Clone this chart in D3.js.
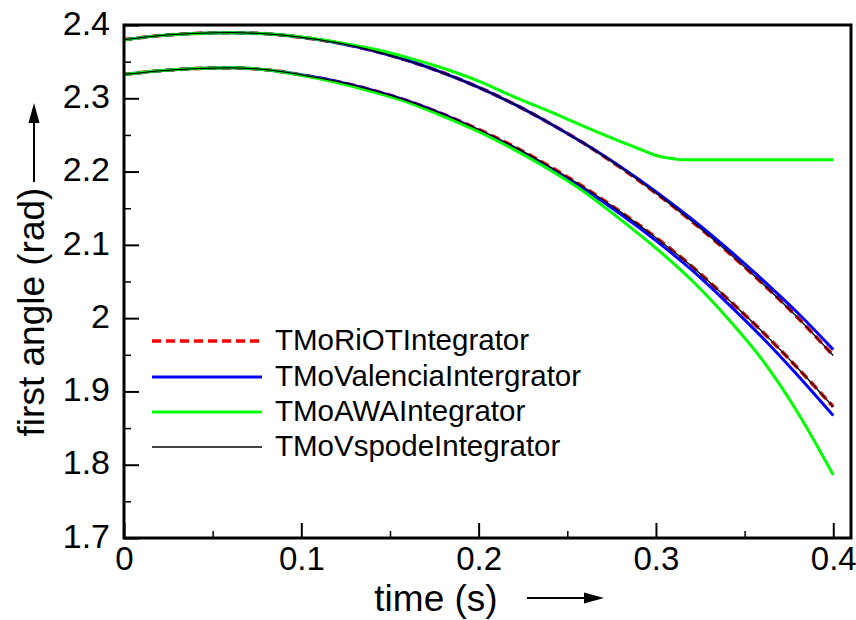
<!DOCTYPE html>
<html>
<head>
<meta charset="utf-8">
<script src="https://cdn.jsdelivr.net/npm/d3@7"></script>
<style>
  html, body { margin: 0; padding: 0; background: #fff; }
  svg { display: block; }
  text { font-family: "Liberation Sans", Arial, Helvetica, sans-serif; fill: #000; }
</style>
</head>
<body>
<svg id="chart" width="856" height="620"></svg>
<script>
// ---------- data ----------
const seriesNames = ["TMoRiOTIntegrator", "TMoValenciaIntergrator", "TMoAWAIntegrator", "TMoVspodeIntegrator"];

const timeS = [0, 0.02, 0.04, 0.06, 0.08, 0.10, 0.12, 0.14, 0.16, 0.18, 0.20,
               0.22, 0.24, 0.26, 0.28, 0.30, 0.32, 0.34, 0.36, 0.38, 0.40];

// upper branch
const riotUpper     = [2.380, 2.3855, 2.3885, 2.3895, 2.388, 2.3832, 2.3758, 2.3652, 2.3515, 2.3348, 2.315,
                       2.292, 2.266, 2.2375, 2.2056, 2.1706, 2.1326, 2.0915, 2.0475, 2.0005, 1.949];
const valenciaUpper = [2.380, 2.3855, 2.3885, 2.3895, 2.388, 2.3832, 2.3758, 2.3652, 2.3515, 2.3348, 2.315,
                       2.292, 2.266, 2.2375, 2.2066, 2.1726, 2.1356, 2.0955, 2.0525, 2.007, 1.957];
const vspodeUpper   = [2.380, 2.3855, 2.3885, 2.3895, 2.388, 2.3832, 2.3758, 2.3652, 2.3515, 2.3348, 2.315,
                       2.292, 2.266, 2.2375, 2.2056, 2.1706, 2.1326, 2.0915, 2.0475, 2.0005, 1.949];
const timeAwaUpper  = [0, 0.02, 0.04, 0.06, 0.08, 0.10, 0.12, 0.14, 0.16, 0.18, 0.20, 0.22, 0.24, 0.26,
                       0.28, 0.29, 0.30, 0.31, 0.315, 0.32, 0.34, 0.36, 0.38, 0.40];
const awaUpper      = [2.380, 2.3855, 2.3885, 2.3895, 2.388, 2.3835, 2.3765, 2.3675, 2.3555, 2.341, 2.3235, 2.302, 2.282, 2.261,
                       2.241, 2.2315, 2.222, 2.2175, 2.216, 2.216, 2.216, 2.216, 2.216, 2.216];

// lower branch
const riotLower     = [2.3325, 2.3375, 2.3405, 2.3415, 2.339, 2.332, 2.323, 2.3112, 2.2965, 2.2782, 2.2574,
                       2.234, 2.207, 2.1776, 2.145, 2.1098, 2.0711, 2.0272, 1.9815, 1.9317, 1.879];
const valenciaLower = [2.3325, 2.3375, 2.3405, 2.3415, 2.339, 2.332, 2.323, 2.3112, 2.2965, 2.2782, 2.2564,
                       2.2325, 2.205, 2.1751, 2.142, 2.1058, 2.0661, 2.0212, 1.9735, 1.9217, 1.867];
const vspodeLower   = [2.3325, 2.3375, 2.3405, 2.3415, 2.339, 2.332, 2.323, 2.3112, 2.2965, 2.2782, 2.2574,
                       2.234, 2.207, 2.1776, 2.145, 2.1098, 2.0711, 2.0272, 1.9815, 1.9317, 1.879];
const awaLower      = [2.3325, 2.3375, 2.3405, 2.3415, 2.339, 2.3315, 2.3215, 2.309, 2.2945, 2.2755, 2.2545,
                       2.230, 2.2025, 2.1715, 2.1345, 2.0955, 2.052, 2.001, 1.943, 1.871, 1.786];

const xTickValues = [0, 0.1, 0.2, 0.3, 0.4];
const xTickLabels = ["0", "0.1", "0.2", "0.3", "0.4"];
const xMinorTicks = [0.05, 0.15, 0.25, 0.35];
const yTickValues = [1.7, 1.8, 1.9, 2.0, 2.1, 2.2, 2.3, 2.4];
const yTickLabels = ["1.7", "1.8", "1.9", "2", "2.1", "2.2", "2.3", "2.4"];
const yMinorTicks = [1.75, 1.85, 1.95, 2.05, 2.15, 2.25, 2.35];

// ---------- layout ----------
const L = 124, R = 851, T = 25, B = 538;
const svg = d3.select("#chart");
const x = d3.scaleLinear().domain([0, 0.41]).range([L, R]);
const y = d3.scaleLinear().domain([1.7, 2.4]).range([B, T]);
const FONT = '"Liberation Sans", Arial, Helvetica, sans-serif';

const styles = [
  { color: "#ff0000", width: 3.6, dash: "9,5" },
  { color: "#0000ff", width: 3,   dash: null },
  { color: "#00ff00", width: 3,   dash: null },
  { color: "#000000", width: 1.3, dash: null }
];

const curves = [
  [ {t: timeS, v: riotUpper},        {t: timeS, v: riotLower} ],
  [ {t: timeS, v: valenciaUpper},    {t: timeS, v: valenciaLower} ],
  [ {t: timeAwaUpper, v: awaUpper},  {t: timeS, v: awaLower} ],
  [ {t: timeS, v: vspodeUpper},      {t: timeS, v: vspodeLower} ]
];

const line = d3.line().x(d => x(d[0])).y(d => y(d[1])).curve(d3.curveMonotoneX);

const plot = svg.append("g");
curves.forEach((pair, i) => {
  pair.forEach(c => {
    const pts = c.t.map((t, k) => [t, c.v[k]]);
    plot.append("path")
      .attr("d", line(pts))
      .attr("fill", "none")
      .attr("stroke", styles[i].color)
      .attr("stroke-width", styles[i].width)
      .attr("stroke-dasharray", styles[i].dash)
      .attr("stroke-linejoin", "round");
  });
});

// ---------- axes ----------
const xAxis = d3.axisBottom(x).tickValues(xTickValues)
  .tickFormat((d, i) => xTickLabels[i]).tickSizeInner(-15).tickSizeOuter(0).tickPadding(9);
const gx = svg.append("g").attr("transform", `translate(0,${B})`).call(xAxis);
gx.select(".domain").remove();
gx.selectAll(".tick line").attr("stroke", "#000").attr("stroke-width", 2);
gx.selectAll(".tick text").attr("font-size", 33).attr("fill", "#000").style("font-family", FONT);

const xMinor = d3.axisBottom(x).tickValues(xMinorTicks).tickFormat("").tickSizeInner(-7).tickSizeOuter(0);
const gxm = svg.append("g").attr("transform", `translate(0,${B})`).call(xMinor);
gxm.select(".domain").remove();
gxm.selectAll(".tick line").attr("stroke", "#000").attr("stroke-width", 1.5);

const yAxis = d3.axisLeft(y).tickValues(yTickValues)
  .tickFormat((d, i) => yTickLabels[i]).tickSizeInner(-15).tickSizeOuter(0).tickPadding(14);
const gy = svg.append("g").attr("transform", `translate(${L},0)`).call(yAxis);
gy.select(".domain").remove();
gy.selectAll(".tick line").attr("stroke", "#000").attr("stroke-width", 2);
gy.selectAll(".tick text").attr("font-size", 34).attr("fill", "#000").attr("dy", "0.27em").style("font-family", FONT);

const yMinor = d3.axisLeft(y).tickValues(yMinorTicks).tickFormat("").tickSizeInner(-7).tickSizeOuter(0);
const gym = svg.append("g").attr("transform", `translate(${L},0)`).call(yMinor);
gym.select(".domain").remove();
gym.selectAll(".tick line").attr("stroke", "#000").attr("stroke-width", 1.5);

// frame
svg.append("rect").attr("x", L).attr("y", T).attr("width", R - L).attr("height", B - T)
  .attr("fill", "none").attr("stroke", "#000").attr("stroke-width", 3);

// ---------- axis titles ----------
svg.append("text").attr("x", 436).attr("y", 611).attr("text-anchor", "middle")
  .attr("font-size", 37).text("time (s)");
svg.append("line").attr("x1", 527).attr("x2", 588).attr("y1", 598).attr("y2", 598)
  .attr("stroke", "#000").attr("stroke-width", 2);
svg.append("path").attr("d", "M604,598 L584,592.5 L584,603.5 Z").attr("fill", "#000");

svg.append("text").attr("transform", "translate(44,312) rotate(-90)").attr("text-anchor", "middle")
  .attr("font-size", 37).text("first angle (rad)");
svg.append("line").attr("x1", 34).attr("x2", 34).attr("y1", 182).attr("y2", 120)
  .attr("stroke", "#000").attr("stroke-width", 2);
svg.append("path").attr("d", "M34,103 L28.5,123 L39.5,123 Z").attr("fill", "#000");

// ---------- legend ----------
const legendY = [341, 377, 412, 447];
const leg = svg.append("g");
seriesNames.forEach((name, i) => {
  leg.append("line").attr("x1", 152).attr("x2", 262).attr("y1", legendY[i]).attr("y2", legendY[i])
    .attr("stroke", styles[i].color).attr("stroke-width", styles[i].width)
    .attr("stroke-dasharray", styles[i].dash);
  leg.append("text").attr("x", 275).attr("y", legendY[i] + 9).attr("font-size", 29.5).text(name);
});
</script>
</body>
</html>
